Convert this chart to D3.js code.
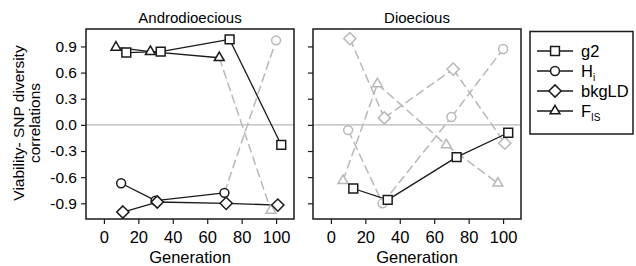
<!DOCTYPE html>
<html>
<head>
<meta charset="utf-8">
<script src="https://cdn.jsdelivr.net/npm/d3@7"></script>
<style>
  html, body { margin: 0; padding: 0; background: #fff; }
  svg { display: block; font-family: 'Liberation Sans', Arial, sans-serif; }
</style>
</head>
<body>
<div id="chart"></div>
<script>
// generations (slightly offset per series in the original figure)
const xG2 = [13, 33, 73, 103];
const xHi = [10, 30, 70, 100];
const xLD = [11, 31, 71, 101];
const xFis = [7, 27, 67, 97];

// Androdioecious correlations
const androG2 = [0.83, 0.84, 0.98, -0.23];
const androHi = [-0.67, -0.87, -0.78, 0.97];
const androLD = [-1.0, -0.885, -0.9, -0.92];
const androFis = [0.89, 0.84, 0.77, -0.98];
// significant (1) or not (0)
const androG2Sig = [1, 1, 1, 1];
const androHiSig = [1, 1, 1, 0];
const androLDSig = [1, 1, 1, 1];
const androFisSig = [1, 1, 1, 0];

// Dioecious correlations
const dioG2 = [-0.73, -0.86, -0.37, -0.09];
const dioHi = [-0.06, -0.9, 0.09, 0.87];
const dioLD = [0.99, 0.08, 0.64, -0.21];
const dioFis = [-0.64, 0.47, -0.23, -0.67];
const dioG2Sig = [1, 1, 1, 1];
const dioHiSig = [0, 0, 0, 0];
const dioLDSig = [0, 0, 0, 0];
const dioFisSig = [0, 0, 0, 0];

const panelNames = ['Androdioecious', 'Dioecious'];
const yTicks = [-0.9, -0.6, -0.3, 0.0, 0.3, 0.6, 0.9];
const xTicks = [0, 20, 40, 60, 80, 100];

const d3 = window.d3;
const W = 636, H = 266;
const BLACK = '#1a1a1a', GREY = '#b8b8b8';
const FONT = "'Liberation Sans', Arial, sans-serif";

const svg = d3.select('#chart').append('svg').attr('width', W).attr('height', H);

const y = d3.scaleLinear().domain([-1.08, 1.1]).range([219, 29]);
const panelRanges = [[86, 294], [313, 521]];

const symbols = {
  g2: d3.symbolSquare, Hi: d3.symbolCircle, bkgLD: d3.symbolDiamond2, FIS: d3.symbolTriangle2
};
const symSize = { g2: 78, Hi: 62, bkgLD: 95, FIS: 70 };

function marker(sel, key) {
  sel.attr('d', d3.symbol().type(symbols[key]).size(symSize[key])());
}

const panels = [
  [
    { key: 'g2', x: xG2, v: androG2, sig: androG2Sig },
    { key: 'Hi', x: xHi, v: androHi, sig: androHiSig },
    { key: 'bkgLD', x: xLD, v: androLD, sig: androLDSig },
    { key: 'FIS', x: xFis, v: androFis, sig: androFisSig }
  ],
  [
    { key: 'g2', x: xG2, v: dioG2, sig: dioG2Sig },
    { key: 'Hi', x: xHi, v: dioHi, sig: dioHiSig },
    { key: 'bkgLD', x: xLD, v: dioLD, sig: dioLDSig },
    { key: 'FIS', x: xFis, v: dioFis, sig: dioFisSig }
  ]
];

panels.forEach((series, pi) => {
  const [x0, x1] = panelRanges[pi];
  const x = d3.scaleLinear().domain([-10.4, 110.4]).range([x0, x1]);
  const g = svg.append('g');

  // title
  g.append('text').attr('x', (x0 + x1) / 2).attr('y', 23)
    .attr('text-anchor', 'middle').attr('font-size', 15).attr('fill', '#000')
    .text(panelNames[pi]);

  // zero line
  g.append('line').attr('x1', x0).attr('x2', x1)
    .attr('y1', y(0)).attr('y2', y(0))
    .attr('stroke', GREY).attr('stroke-width', 1.3);

  // axes
  const xa = g.append('g').attr('transform', `translate(0,${y.range()[0]})`)
    .call(d3.axisBottom(x).tickValues(xTicks).tickSize(5).tickPadding(7));
  xa.select('.domain').remove();
  xa.selectAll('line').attr('stroke', BLACK).attr('stroke-width', 1.2);
  xa.selectAll('text').attr('font-size', 16.5).attr('fill', '#000').attr('font-family', FONT);

  const ya = g.append('g').attr('transform', `translate(${x0},0)`)
    .call(d3.axisLeft(y).tickValues(yTicks).tickSize(5).tickPadding(4));
  ya.select('.domain').remove();
  ya.selectAll('line').attr('stroke', BLACK).attr('stroke-width', 1.2);
  ya.selectAll('text').attr('font-size', 15.5).attr('fill', '#000').attr('font-family', FONT)
    .text(d => d3.format('.1f')(d).replace('\u2212', '-'));
  if (pi !== 0) ya.selectAll('text').remove();

  g.append('text').attr('x', (x0 + x1) / 2).attr('y', 262.5)
    .attr('text-anchor', 'middle').attr('font-size', 16.5).attr('fill', '#000')
    .text('Generation');

  // lines: grey dashed segments first, then black ones on top
  const segs = [];
  series.forEach(s => {
    for (let i = 0; i < s.v.length - 1; i++) {
      segs.push({ a: [s.x[i], s.v[i]], b: [s.x[i + 1], s.v[i + 1]], sig: s.sig[i] && s.sig[i + 1] });
    }
  });
  segs.sort((p, q) => p.sig - q.sig);
  g.selectAll('.seg').data(segs).enter().append('line')
    .attr('x1', d => x(d.a[0])).attr('y1', d => y(d.a[1]))
    .attr('x2', d => x(d.b[0])).attr('y2', d => y(d.b[1]))
    .attr('stroke', d => d.sig ? BLACK : GREY)
    .attr('stroke-width', d => d.sig ? 1.3 : 1.5)
    .attr('stroke-dasharray', d => d.sig ? null : '9,4');

  // markers
  const pts = [];
  series.forEach(s => s.v.forEach((v, i) => pts.push({ key: s.key, x: s.x[i], v, sig: s.sig[i] })));
  pts.sort((p, q) => p.sig - q.sig);
  g.selectAll('.pt').data(pts).enter().append('path')
    .each(function(d) { marker(d3.select(this), d.key); })
    .attr('transform', d => `translate(${x(d.x)},${y(d.v)})`)
    .attr('fill', '#fff')
    .attr('stroke', d => d.sig ? BLACK : GREY)
    .attr('stroke-width', 1.5);

  // frame
  g.append('rect').attr('x', x0).attr('y', y.range()[1])
    .attr('width', x1 - x0).attr('height', y.range()[0] - y.range()[1])
    .attr('fill', 'none').attr('stroke', BLACK).attr('stroke-width', 1.5);
});

// y axis title
const yt = svg.append('text').attr('transform', 'translate(0,123) rotate(-90)')
  .attr('text-anchor', 'middle').attr('font-size', 15.5).attr('fill', '#000');
yt.append('tspan').attr('x', 0).attr('y', 24).text('Viability- SNP diversity');
yt.append('tspan').attr('x', 0).attr('y', 40).text('correlations');

// legend
const legendKeys = ['g2', 'Hi', 'bkgLD', 'FIS'];
const lg = svg.append('g');
lg.append('rect').attr('x', 530).attr('y', 31.5).attr('width', 103).attr('height', 102.5)
  .attr('fill', '#fff').attr('stroke', BLACK).attr('stroke-width', 1.5);
const ly = d3.scalePoint().domain(legendKeys).range([51, 111]);
legendKeys.forEach(k => {
  const row = lg.append('g').attr('transform', `translate(0,${ly(k)})`);
  row.append('line').attr('x1', 537).attr('x2', 573).attr('stroke', BLACK).attr('stroke-width', 1.3);
  row.append('path').call(marker, k).attr('transform', 'translate(555,0)')
    .attr('fill', '#fff').attr('stroke', BLACK).attr('stroke-width', 1.5);
  const t = row.append('text').attr('x', 581).attr('y', 5.5).attr('font-size', 16.5).attr('fill', '#000');
  if (k === 'Hi') {
    t.append('tspan').text('H');
    t.append('tspan').attr('font-size', 10).attr('dy', 4).text('i');
  } else if (k === 'FIS') {
    t.append('tspan').text('F');
    t.append('tspan').attr('font-size', 10).attr('dy', 4).text('IS');
  } else {
    t.text(k);
  }
});
</script>
</body>
</html>
